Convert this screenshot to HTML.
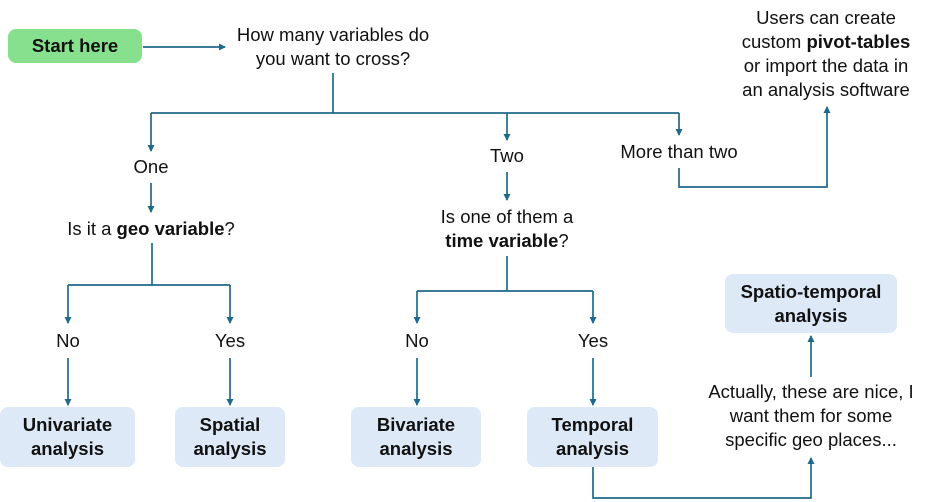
<!DOCTYPE html>
<html><head><style>
body{margin:0;width:935px;height:502px;background:#fff;overflow:hidden;font-family:"Liberation Sans",sans-serif;color:#111;}
.t{position:absolute;font-size:18.5px;text-align:center;line-height:24px;white-space:nowrap;transform:translateX(-50%);}
.box{position:absolute;background:#dde9f6;border-radius:8px;font-weight:bold;font-size:18.5px;line-height:24px;text-align:center;display:flex;align-items:center;justify-content:center;white-space:nowrap;}
</style></head><body>
<svg width="935" height="502" style="position:absolute;left:0;top:0">
<defs><marker id="a" markerWidth="8" markerHeight="8" refX="6" refY="4" orient="auto" markerUnits="userSpaceOnUse"><path d="M0,0.5 L7,4 L0,7.5z" fill="#1f6a8a"/></marker></defs>
<g stroke="#1f6a8a" stroke-width="1.7" fill="none">
<path d="M143,47 H225" marker-end="url(#a)"/>
<path d="M333,73 V113"/>
<path d="M151,113 H679"/>
<path d="M151,113 V151" marker-end="url(#a)"/>
<path d="M507,113 V140" marker-end="url(#a)"/>
<path d="M679,113 V135" marker-end="url(#a)"/>
<path d="M151,183 V212" marker-end="url(#a)"/>
<path d="M152,243 V285 M68,285 H230"/>
<path d="M68,285 V323" marker-end="url(#a)"/>
<path d="M230,285 V323" marker-end="url(#a)"/>
<path d="M68,358 V405" marker-end="url(#a)"/>
<path d="M230,358 V405" marker-end="url(#a)"/>
<path d="M507,172 V200" marker-end="url(#a)"/>
<path d="M507,256 V291 M417,291 H593"/>
<path d="M417,291 V323" marker-end="url(#a)"/>
<path d="M593,291 V323" marker-end="url(#a)"/>
<path d="M417,358 V405" marker-end="url(#a)"/>
<path d="M593,358 V405" marker-end="url(#a)"/>
<path d="M679,168 V187 H827 V107" marker-end="url(#a)"/>
<path d="M811,377 V336" marker-end="url(#a)"/>
<path d="M593,467 V498 H811 V458" marker-end="url(#a)"/>
</g></svg>
<div class="box" style="left:8px;top:29px;width:134px;height:34px;background:#86e08e;">Start here</div>
<div class="t" style="left:333px;top:23px">How many variables do<br>you want to cross?</div>
<div class="t" style="left:826px;top:6px">Users can create<br>custom <b>pivot-tables</b><br>or import the data in<br>an analysis software</div>
<div class="t" style="left:151px;top:155px">One</div>
<div class="t" style="left:507px;top:144px">Two</div>
<div class="t" style="left:679px;top:140px">More than two</div>
<div class="t" style="left:151px;top:217px">Is it a <b>geo variable</b>?</div>
<div class="t" style="left:507px;top:205px">Is one of them a<br><b>time variable</b>?</div>
<div class="t" style="left:68px;top:329px">No</div>
<div class="t" style="left:230px;top:329px">Yes</div>
<div class="t" style="left:417px;top:329px">No</div>
<div class="t" style="left:593px;top:329px">Yes</div>
<div class="box" style="left:0;top:407px;width:135px;height:60px;">Univariate<br>analysis</div>
<div class="box" style="left:175px;top:407px;width:110px;height:60px;">Spatial<br>analysis</div>
<div class="box" style="left:351px;top:407px;width:130px;height:60px;">Bivariate<br>analysis</div>
<div class="box" style="left:527px;top:407px;width:131px;height:60px;">Temporal<br>analysis</div>
<div class="box" style="left:725px;top:274px;width:172px;height:59px;">Spatio-temporal<br>analysis</div>
<div class="t" style="left:811px;top:380px">Actually, these are nice, I<br>want them for some<br>specific geo places...</div>
</body></html>
